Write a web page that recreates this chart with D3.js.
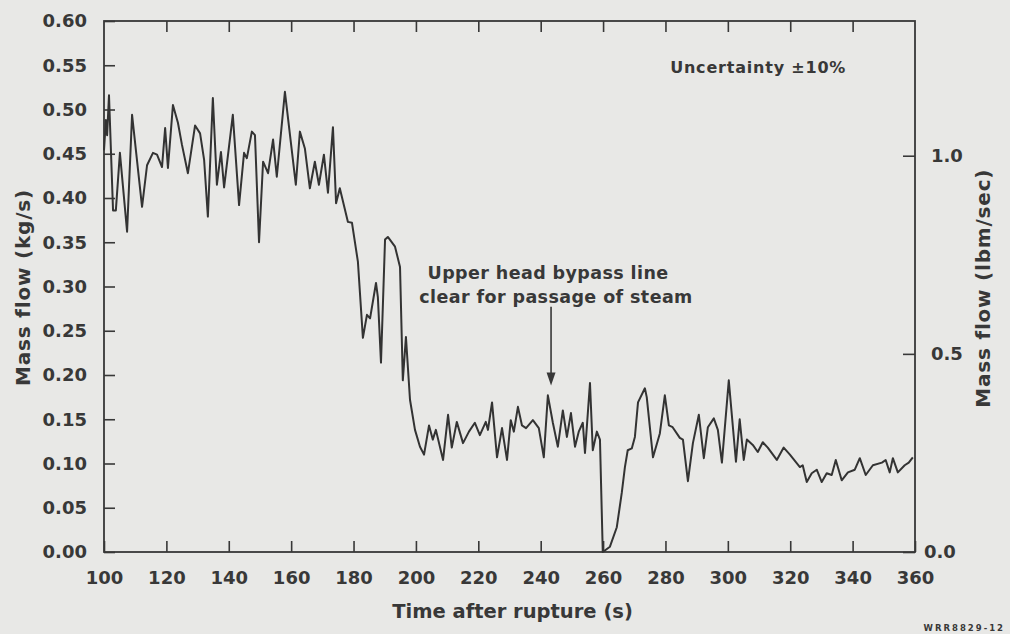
<!DOCTYPE html>
<html>
<head>
<meta charset="utf-8">
<script src="https://cdn.jsdelivr.net/npm/d3@7"></script>
<style>
  html, body { margin: 0; padding: 0; background: #e8e8e6; }
  svg { display: block; }
  text { font-family: "DejaVu Sans", sans-serif; font-weight: bold; fill: #383838; }
</style>
</head>
<body>
<svg id="chart" width="1010" height="634"></svg>
<script>
// Break mass flow measured after the rupture (kg/s) against time (s)
const timeSec = [
  100.0, 100.6, 101.0, 101.6, 102.9, 103.8, 105.1, 107.4, 109.0, 112.2,
  113.8, 115.7, 117.0, 118.6, 119.6, 120.5, 122.1, 123.7, 125.0, 126.9,
  129.2, 130.8, 132.1, 133.3, 134.9, 136.2, 137.5, 138.5, 141.3, 143.3,
  144.9, 145.8, 147.4, 148.4, 149.7, 151.0, 152.6, 154.2, 155.4, 158.0,
  161.5, 162.8, 164.4, 166.0, 167.6, 168.9, 170.5, 171.8, 173.4, 174.4,
  175.6, 178.2, 179.5, 181.4, 183.0, 184.3, 185.3, 187.2, 187.8, 188.8,
  190.1, 191.0, 193.3, 194.9, 195.8, 196.8, 198.1, 199.7, 201.3, 202.6,
  204.2, 205.4, 206.4, 208.7, 210.3, 211.5, 213.1, 215.1, 217.0, 218.9,
  220.5, 222.4, 223.1, 224.4, 226.0, 227.6, 229.2, 230.4, 231.4, 232.7,
  234.0, 235.3, 237.5, 239.4, 241.0, 242.3, 243.9, 245.5, 247.1, 248.4,
  249.7, 251.0, 252.2, 253.5, 254.2, 255.8, 256.7, 258.0, 259.0, 259.9,
  262.2, 264.4, 266.0, 267.0, 267.9, 269.2, 270.2, 271.2, 273.4, 274.0,
  276.0, 278.2, 279.8, 281.1, 282.3, 284.6, 285.6, 287.2, 288.8, 290.7,
  292.3, 293.6, 295.5, 296.8, 298.1, 300.3, 302.6, 303.8, 305.1, 306.1,
  308.0, 309.6, 311.2, 312.8, 315.7, 317.9, 319.9, 323.1, 324.0, 325.3,
  326.9, 328.5, 330.1, 331.7, 333.3, 334.6, 336.5, 338.5, 340.7, 342.3,
  344.2, 346.5, 349.4, 350.6, 351.9, 352.9, 354.5, 356.7, 358.0, 359.3
];
const massFlowKg = [
  0.454, 0.488, 0.471, 0.516, 0.386, 0.386, 0.451, 0.362, 0.494, 0.390,
  0.437, 0.451, 0.449, 0.435, 0.479, 0.434, 0.505, 0.485, 0.460, 0.428,
  0.482, 0.473, 0.443, 0.379, 0.513, 0.415, 0.452, 0.412, 0.494, 0.392,
  0.451, 0.445, 0.475, 0.471, 0.350, 0.441, 0.428, 0.466, 0.424, 0.520,
  0.415, 0.475, 0.456, 0.411, 0.441, 0.415, 0.449, 0.406, 0.480, 0.394,
  0.411, 0.373, 0.372, 0.328, 0.242, 0.268, 0.264, 0.304, 0.288, 0.214,
  0.353, 0.356, 0.345, 0.322, 0.194, 0.243, 0.172, 0.138, 0.119, 0.110,
  0.143, 0.127, 0.138, 0.104, 0.155, 0.118, 0.147, 0.123, 0.136, 0.146,
  0.132, 0.147, 0.138, 0.169, 0.107, 0.140, 0.104, 0.149, 0.136, 0.164,
  0.143, 0.140, 0.149, 0.140, 0.107, 0.177, 0.146, 0.119, 0.160, 0.130,
  0.157, 0.119, 0.136, 0.146, 0.112, 0.191, 0.115, 0.136, 0.127, 0.000,
  0.006, 0.028, 0.067, 0.096, 0.115, 0.117, 0.130, 0.169, 0.185, 0.175,
  0.107, 0.134, 0.177, 0.143, 0.141, 0.129, 0.127, 0.080, 0.123, 0.155,
  0.106, 0.141, 0.151, 0.138, 0.101, 0.194, 0.102, 0.150, 0.104, 0.127,
  0.121, 0.113, 0.124, 0.118, 0.104, 0.118, 0.110, 0.096, 0.098, 0.079,
  0.089, 0.093, 0.079, 0.089, 0.087, 0.104, 0.081, 0.090, 0.093, 0.106,
  0.087, 0.098, 0.101, 0.104, 0.090, 0.106, 0.090, 0.098, 0.101, 0.107
];

// Axis ticks
const xTicks = [100, 120, 140, 160, 180, 200, 220, 240, 260, 280, 300, 320, 340, 360];
const yTicksKg = [0, 0.05, 0.10, 0.15, 0.20, 0.25, 0.30, 0.35, 0.40, 0.45, 0.50, 0.55, 0.60];
const yTicksLbm = [0, 0.5, 1.0];

// Annotations
const noteLines = ["Upper head bypass line", "clear for passage of steam"];
const noteTime = 243;
const noteArrowTip = 0.188;
const uncertaintyText = "Uncertainty \u00b110%";
const figureId = "WRR8829-12";

const svg = d3.select("#chart");
const margin = { left: 104, top: 21, right: 95, bottom: 82 };
const W = 1010 - margin.left - margin.right;
const H = 634 - margin.top - margin.bottom;
const ink = "#383838";

const x = d3.scaleLinear().domain([100, 360]).range([0, W]);
const y = d3.scaleLinear().domain([0, 0.6]).range([H, 0]);
const yRight = d3.scaleLinear().domain([0, 1.34]).range([H, 0]);

const g = svg.append("g").attr("transform", `translate(${margin.left},${margin.top})`);

// Inward ticks on all four sides
const innerX = xTicks.slice(1, -1);
const bottomAxis = d3.axisBottom(x).tickValues(xTicks).tickSizeInner(-11).tickSizeOuter(0)
  .tickPadding(19).tickFormat(d3.format("d"));
const topAxis = d3.axisTop(x).tickValues(innerX).tickSizeInner(-11).tickSizeOuter(0)
  .tickFormat("");
const leftAxis = d3.axisLeft(y).tickValues(yTicksKg).tickSizeInner(-11).tickSizeOuter(0)
  .tickPadding(17).tickFormat(d3.format(".2f"));
const rightAxis = d3.axisRight(yRight).tickValues(yTicksLbm).tickSizeInner(-12).tickSizeOuter(0)
  .tickPadding(16).tickFormat(d3.format(".1f"));

function styleAxis(sel) {
  sel.select(".domain").remove();
  sel.selectAll(".tick line").attr("stroke", ink).attr("stroke-width", 1.6);
  sel.selectAll(".tick text").attr("font-size", 18).attr("fill", ink)
    .attr("font-family", "DejaVu Sans, sans-serif").attr("font-weight", "bold");
}

g.append("g").attr("transform", `translate(0,${H})`).call(bottomAxis).call(styleAxis);
g.append("g").call(topAxis).call(styleAxis);
g.append("g").call(leftAxis).call(styleAxis);
const rightG = g.append("g").attr("transform", `translate(${W},0)`).call(rightAxis).call(styleAxis);
rightG.selectAll(".tick").filter(d => d === 0).select("text").attr("x", 9);

// Plot frame
g.append("rect").attr("x", 0).attr("y", 0).attr("width", W).attr("height", H)
  .attr("fill", "none").attr("stroke", ink).attr("stroke-width", 1.8);

// Mass flow trace
const series = timeSec.map((t, i) => [t, massFlowKg[i]]);
g.append("path").datum(series)
  .attr("fill", "none").attr("stroke", "#333").attr("stroke-width", 2)
  .attr("stroke-linejoin", "round")
  .attr("d", d3.line().x(d => x(d[0])).y(d => y(d[1])));

// Axis titles
svg.append("text").attr("x", margin.left + x(230) + 3).attr("y", 618)
  .attr("text-anchor", "middle").attr("font-size", 19.5).text("Time after rupture (s)");
svg.append("text").attr("transform", `translate(30,${margin.top + y(0.3) + 1}) rotate(-90)`)
  .attr("text-anchor", "middle").attr("font-size", 20).attr("letter-spacing", 0.8)
  .text("Mass flow (kg/s)");
svg.append("text").attr("transform", `translate(990,${margin.top + y(0.298)}) rotate(-90)`)
  .attr("text-anchor", "middle").attr("font-size", 20).attr("letter-spacing", 0.8)
  .text("Mass flow (lbm/sec)");

// Uncertainty note
g.append("text").attr("x", x(281.5)).attr("y", y(0.541)).attr("font-size", 16)
  .attr("letter-spacing", 0.8).text(uncertaintyText);

// Bypass line annotation with arrow
const noteX = x(noteTime) + 1;
noteLines.forEach((s, i) => {
  g.append("text").attr("x", noteX + (i === 0 ? -3 : 5)).attr("y", y(0.308) + i * 24)
    .attr("text-anchor", "middle").attr("font-size", 17.5).attr("letter-spacing", 0.4).text(s);
});
const tipY = y(noteArrowTip);
g.append("line").attr("x1", noteX).attr("x2", noteX).attr("y1", y(0.277)).attr("y2", tipY - 10)
  .attr("stroke", ink).attr("stroke-width", 1.6);
g.append("path")
  .attr("d", `M${noteX - 4.5},${tipY - 13} L${noteX + 4.5},${tipY - 13} L${noteX},${tipY} Z`)
  .attr("fill", ink);

// Figure number
svg.append("text").attr("x", 1005).attr("y", 631).attr("text-anchor", "end")
  .attr("font-size", 8.5).attr("letter-spacing", 2).text(figureId);
</script>
</body>
</html>
